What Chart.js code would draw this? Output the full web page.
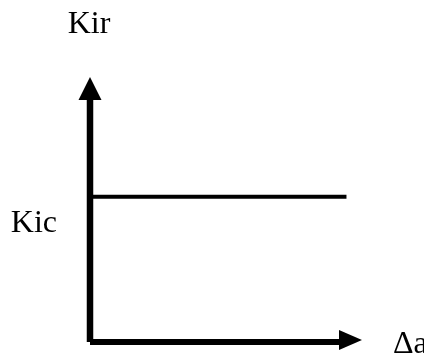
<!DOCTYPE html>
<html>
<head>
<meta charset="utf-8">
<script src="https://cdn.jsdelivr.net/npm/chart.js@4"></script>
<style>
  html, body { margin: 0; padding: 0; background: #fff; }
  #wrap { width: 424px; height: 356px; position: relative; }
</style>
</head>
<body>
<div id="wrap"><canvas id="c"></canvas></div>
<script>
// data
const axisMax = 10;          // axis range in both directions
const kicLevel = 6;          // Kic plateau
const kicEnd = 10.3;         // where the plateau stops
const yLabel = 'Kir';
const xLabel = 'Δa';
const levelLabel = 'Kic';

const FONT = '32px "Liberation Serif", "Times New Roman", serif';

// arrow heads + labels, positioned from the scales
const arrowPlugin = {
  id: 'arrows',
  afterDatasetsDraw(chart) {
    const { ctx, scales: { x, y } } = chart;
    const x0 = x.getPixelForValue(0), y0 = y.getPixelForValue(0);
    const xEnd = x.getPixelForValue(axisMax), yEnd = y.getPixelForValue(axisMax);
    ctx.save();
    ctx.fillStyle = '#000';
    // up arrow
    ctx.beginPath();
    ctx.moveTo(x0, yEnd - 23);
    ctx.lineTo(x0 - 11.5, yEnd);
    ctx.lineTo(x0 + 11.5, yEnd);
    ctx.closePath();
    ctx.fill();
    // right arrow
    ctx.beginPath();
    ctx.moveTo(xEnd + 23, y0 - 2);
    ctx.lineTo(xEnd, y0 - 12);
    ctx.lineTo(xEnd, y0 + 8);
    ctx.closePath();
    ctx.fill();

    ctx.font = FONT;
    ctx.textBaseline = 'alphabetic';
    ctx.textAlign = 'center';
    ctx.fillText(yLabel, x0 - 1, yEnd - 67);
    ctx.textAlign = 'right';
    ctx.fillText(levelLabel, x0 - 33, y.getPixelForValue(kicLevel) + 35);
    ctx.textAlign = 'left';
    ctx.fillText(xLabel, xEnd + 54, y0 + 11);
    ctx.restore();
  }
};

new Chart(document.getElementById('c'), {
  type: 'scatter',
  data: {
    datasets: [
      { data: [{ x: 0, y: 0 }, { x: 0, y: axisMax }], showLine: true, borderColor: '#000', borderWidth: 6.5, pointRadius: 0, clip: false },
      { data: [{ x: 0, y: 0 }, { x: axisMax, y: 0 }], showLine: true, borderColor: '#000', borderWidth: 6, pointRadius: 0, clip: false },
      { data: [{ x: 0, y: kicLevel }, { x: kicEnd, y: kicLevel }], showLine: true, borderColor: '#000', borderWidth: 4, pointRadius: 0, clip: false },
    ],
  },
  options: {
    responsive: true, maintainAspectRatio: false, animation: false,
    layout: { padding: { left: 90, right: 85, top: 100, bottom: 14 } },
    plugins: { legend: { display: false }, tooltip: { enabled: false } },
    scales: {
      x: { type: 'linear', min: 0, max: axisMax, display: false },
      y: { type: 'linear', min: 0, max: axisMax, display: false },
    },
  },
  plugins: [arrowPlugin],
});
</script>
</body>
</html>
